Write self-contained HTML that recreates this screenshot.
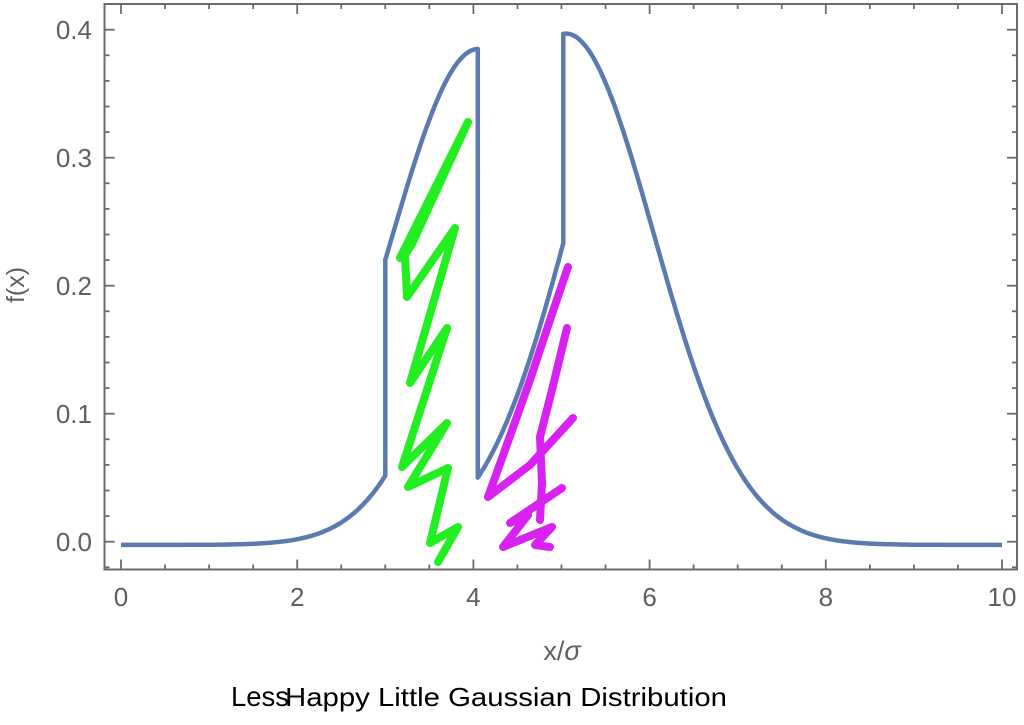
<!DOCTYPE html>
<html><head><meta charset="utf-8"><style>
html,body{margin:0;padding:0;background:#fff;width:1024px;height:725px;overflow:hidden}
svg{display:block}
text{font-family:"Liberation Sans",sans-serif}
</style></head><body>
<svg id="s" width="1024" height="725" viewBox="0 0 1024 725">
<rect x="104.5" y="4" width="912.5" height="565.5" fill="none" stroke="#6b6b6b" stroke-width="2"/>
<g id="ticks" stroke="#6b6b6b" stroke-width="1.8"></g>
<g id="labels" fill="#5f5f5f" font-size="26"></g>
<path id="curve" fill="none" stroke="#5b7bb0" stroke-width="4.5" stroke-linejoin="round"/>
<polyline fill="none" stroke="#22ee22" stroke-width="8" stroke-linecap="round" stroke-linejoin="round"
points="400,258 468,122 412,244 405,255 407,297 455,228 410,383 447,328 402,467 447,423 408,487 448,468 430,543 458,527 438,562"/>
<polyline fill="none" stroke="#d822f2" stroke-width="8" stroke-linecap="round" stroke-linejoin="round"
points="568,267 550,320 530,380 505,450 488,497 530,465 573,418"/>
<polyline fill="none" stroke="#d822f2" stroke-width="8" stroke-linecap="round" stroke-linejoin="round"
points="567,328 552,390 540,437 542,483 540,520"/>
<polyline fill="none" stroke="#d822f2" stroke-width="8" stroke-linecap="round" stroke-linejoin="round"
points="562,488 510,523 528,515 503,547 552,527 535,545 550,547"/>
<text x="562" y="660" font-size="27" fill="#5f5f5f" text-anchor="middle">x/<tspan font-style="italic">σ</tspan></text>
<text transform="translate(24,285) rotate(-90)" font-size="25" fill="#5f5f5f" text-anchor="middle">f(x)</text>
<text x="231" y="706" font-size="28" fill="#000" textLength="58" lengthAdjust="spacingAndGlyphs">Less</text>
<text x="285" y="706" font-size="26" fill="#000" textLength="442" lengthAdjust="spacingAndGlyphs">Happy Little Gaussian Distribution</text>
</svg>
<script>
const X=v=>121+88.1*v, Y=v=>541.7-1280*v;
const ns="http://www.w3.org/2000/svg";
const tg=document.getElementById('ticks'), lg=document.getElementById('labels');
function ln(x1,y1,x2,y2){const l=document.createElementNS(ns,'line');l.setAttribute('x1',x1);l.setAttribute('y1',y1);l.setAttribute('x2',x2);l.setAttribute('y2',y2);tg.appendChild(l);}
function tx(x,y,s,a){const t=document.createElementNS(ns,'text');t.setAttribute('x',x);t.setAttribute('y',y);t.setAttribute('text-anchor',a);t.textContent=s;lg.appendChild(t);}
for(let i=0;i<=20;i++){const v=i/2,x=X(v),maj=(i%4==0),L=maj?10:5;ln(x,569.5,x,569.5-L);ln(x,4,x,4+L);if(maj)tx(x,606,String(v),'middle');}
for(let i=-1;i<=21;i++){const v=i*0.02,y=Y(v);if(y<5||y>569)continue;const maj=(i%5==0),L=maj?10:5;ln(104.5,y,104.5+L,y);ln(1017,y,1017-L,y);if(maj)tx(92,y+9.5,v.toFixed(1),'end');}
const g=(x,c,a)=>a*Math.exp(-(x-c)*(x-c)/2);
let d=[];
for(let x=0;x<=3.0001;x+=0.02)d.push([x,g(x,5,0.399)-0.0025]);
for(let x=3;x<=4.05001;x+=0.02)d.push([x,g(x,4.057,0.385)]);
d.push([4.05,g(4.05,4.057,0.385)]);
for(let x=4.05;x<=5.02001;x+=0.02)d.push([x,g(x,6.12,0.427)]);
d.push([5.02,g(5.02,6.12,0.427)]);
for(let x=5.02;x<=10.0001;x+=0.02)d.push([x,g(x,5.05,0.397)-0.0025*(1-Math.exp(-(x-5.05)*(x-5.05)/2))]);
document.getElementById('curve').setAttribute('d','M'+d.map(p=>X(p[0]).toFixed(1)+','+Y(p[1]).toFixed(1)).join('L'));
</script>
</body></html>
